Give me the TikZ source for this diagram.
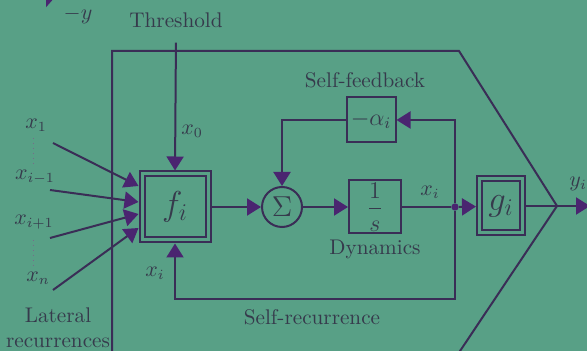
\documentclass[tikz,border=0pt]{standalone}
\usepackage{amsmath,amssymb}
\usetikzlibrary{arrows.meta,positioning,calc,fit}

\definecolor{bgteal}{HTML}{58A086}
\definecolor{linecol}{HTML}{3A2D56}
\definecolor{tipcol}{HTML}{4A2570}
\definecolor{txtcol}{HTML}{363A4C}

\begin{document}
\begin{tikzpicture}[x=0.5pt,y=-0.5pt,
  blk/.style={draw=linecol, line width=1pt, inner sep=0pt, text=txtcol},
  dblk/.style={draw=linecol, line width=1pt, inner sep=2pt},
  wire/.style={draw=linecol, line width=1pt},
  arr/.style={wire, -{Triangle[length=7pt,width=8.5pt,color=tipcol]}},
  bigarr/.style={draw=tipcol, line width=2.5pt, -{Triangle[length=5pt,width=11pt]}},
  lbl/.style={text=txtcol, font=\fontsize{10.6}{12.5}\selectfont},
  dot/.style={circle, fill=tipcol, inner sep=1.3pt},
]
% --- background and frame ---
\fill[bgteal] (0,0) rectangle (587,351);
\useasboundingbox (0,0) rectangle (587,351);
\coordinate (apex) at (557,206);
\draw[wire] (112,360) -- (112,51) -- (459,51) -- (apex) -- (454,360);

% --- incoming -y (cut off) ---
\coordinate (ytail) at (-10,-4);
\coordinate (ytip) at (56,-4);
\draw[bigarr] (ytail) -- (ytip);
\node[lbl, inner sep=1pt] (negy) at (78,15) {$-y$};

% --- blocks ---
\node[blk, minimum size=30.5pt, font=\LARGE] (fi) at (175,207) {$f_i$};
\node[dblk, fit=(fi)] (fiout) {};
\node[blk, circle, minimum size=20pt, font=\Large] (sum) at (282,207) {$\Sigma$};
\node[blk, minimum width=26pt, minimum height=26.5pt, font=\large] (ones) at (375,207) {$\dfrac{1}{s}$};
\node[blk, minimum width=24.5pt, minimum height=22.5pt, font=\large] (alpha) at (371,120) {$-\alpha_i$};
\node[dot] (jn) at (455,207) {};
\node[blk, minimum width=19pt, minimum height=24.5pt, font=\LARGE] (gi) at (501,206) {$g_i$};
\node[dblk, fit=(gi)] (giout) {};
\coordinate (yout) at (590,206);

% --- labels ---
\node[lbl] (thr) at (176,20) {Threshold};
\node[lbl] (x0) at (192,131) {$x_0$};
\node[lbl] (sfb) at (365,80) {Self-feedback};
\node[lbl] (dyn) at (375,249) {Dynamics};
\node[lbl] (xiout) at (430,192) {$x_i$};
\node[lbl] (yi) at (578,184) {$y_i$};
\node[lbl] (xirec) at (155,273) {$x_i$};
\node[lbl] (srec) at (312,317) {Self-recurrence};
\node[lbl, align=center, inner sep=1pt] (latrec) at (58,328) {Lateral\\recurrences};

% --- lateral inputs ---
\node[lbl] (x1) at (36,125) {$x_1$};
\node[lbl] (xim) at (35,177) {$x_{i-1}$};
\node[lbl] (xip) at (34,222) {$x_{i+1}$};
\node[lbl] (xn) at (38,278) {$x_n$};
\draw[linecol!70, dotted, line width=0.5pt] (33,138) -- (33,166);
\draw[linecol!70, dotted, line width=0.5pt] (33,240) -- (33,267);
\coordinate (s1) at (53,143);
\coordinate (s2) at (50,190);
\coordinate (s3) at (50,238);
\coordinate (s4) at (53,290);
\draw[arr] (s1) -- ([yshift=10.5pt]fiout.west);
\draw[arr] (s2) -- ([yshift=2.5pt]fiout.west);
\draw[arr] (s3) -- ([yshift=-3.5pt]fiout.west);
\draw[arr] (s4) -- ([yshift=-10.5pt]fiout.west);

% --- signal flow ---
\draw[arr, shorten <=4pt] (thr.south) -- (fiout.north);
\draw[arr] (fiout) -- (sum);
\draw[arr] (sum) -- (ones);
\draw[wire] (ones) -- (jn);
\draw[arr] (jn) -- (giout);
\draw[wire] (giout) -- (apex);
\draw[arr] (apex) -- (yout);
\draw[arr] (jn) |- (alpha);
\draw[arr] (alpha) -| (sum);
\draw[arr] (jn) -- ++(0,92) -| (fiout);
\end{tikzpicture}
\end{document}
